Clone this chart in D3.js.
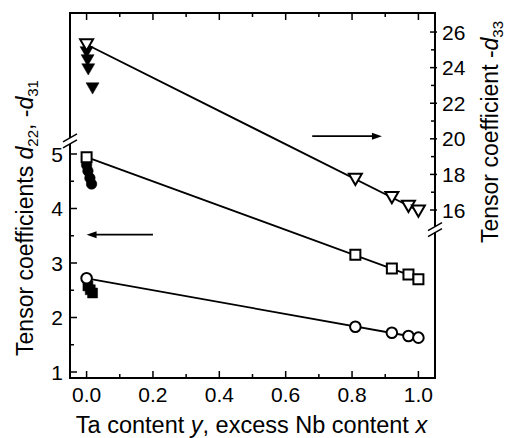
<!DOCTYPE html>
<html>
<head>
<meta charset="utf-8">
<script src="https://cdn.jsdelivr.net/npm/d3@7/dist/d3.min.js"></script>
<style>
  body { margin: 0; background: #fff; }
  svg { display: block; font-family: "Liberation Sans", Arial, sans-serif; }
</style>
</head>
<body>
<div id="chart"></div>
<script>
// tick labels
var xTicks = [0, 0.2, 0.4, 0.6, 0.8, 1.0];
var leftTicks = [1, 2, 3, 4, 5];
var rightTicks = [16, 18, 20, 22, 24, 26];

// open symbols (fitted by lines)
var xOpen = [0, 0.81, 0.92, 0.97, 1.0];
var triOpen = [25.3, 17.74, 16.71, 16.22, 15.96];   // -d33, right axis
var sqOpen = [4.94, 3.15, 2.90, 2.79, 2.70];        // left axis
var circOpen = [2.72, 1.83, 1.72, 1.66, 1.63];      // left axis

// filled symbols near x = 0
var xTriFilled = [0.0, 0.003, 0.005, 0.018];
var triFilled = [24.88, 24.43, 23.92, 22.85];
var xCircFilled = [0.0, 0.004, 0.01, 0.015];
var circFilled = [4.80, 4.69, 4.56, 4.45];
var xSqFilled = [0.004, 0.011, 0.018];
var sqFilled = [2.58, 2.51, 2.45];

var margin = {top: 13, right: 81, bottom: 60, left: 70},
    width = 516 - margin.left - margin.right,
    height = 438 - margin.top - margin.bottom;

var svg = d3.select("#chart").append("svg")
    .attr("width", 516)
    .attr("height", 438);

var g = svg.append("g")
    .attr("transform", "translate(" + margin.left + "," + margin.top + ")");

var x = d3.scaleLinear().domain([-0.05, 1.05]).range([0, width]);
var yL = d3.scaleLinear().domain([0.89, 7.587]).range([height, 0]);
var yR = d3.scaleLinear().domain([6.56, 27.07]).range([height, 0]);

var fontSize = 21;

// frame lines with breaks
var breakL = yL(5.24), breakR = yR(14.9), gap = 3;
var frame = g.append("g").attr("stroke", "#000").attr("stroke-width", 2).attr("fill", "none");
frame.append("line").attr("x1", -1).attr("x2", width + 1).attr("y1", 0).attr("y2", 0);
frame.append("line").attr("x1", -1).attr("x2", width + 1).attr("y1", height).attr("y2", height);
frame.append("line").attr("x1", 0).attr("x2", 0).attr("y1", 0).attr("y2", breakL - gap);
frame.append("line").attr("x1", 0).attr("x2", 0).attr("y1", breakL + gap).attr("y2", height);
frame.append("line").attr("x1", width).attr("x2", width).attr("y1", 0).attr("y2", breakR - gap);
frame.append("line").attr("x1", width).attr("x2", width).attr("y1", breakR + gap).attr("y2", height);

function breakMarks(cx, cy) {
    [-gap, gap].forEach(function (o) {
        frame.append("line")
            .attr("x1", cx - 7).attr("y1", cy + o + 4)
            .attr("x2", cx + 7).attr("y2", cy + o - 4)
            .attr("stroke-width", 1.5);
    });
}
breakMarks(0, breakL);
breakMarks(width, breakR);

// x ticks (bottom and top, inward)
var xMinor = d3.range(0, 1.01, 0.1);
var ticks = g.append("g").attr("stroke", "#000").attr("stroke-width", 1.5);
xMinor.forEach(function (v, i) {
    var len = i % 2 === 0 ? 7 : 4;
    ticks.append("line").attr("x1", x(v)).attr("x2", x(v)).attr("y1", height).attr("y2", height - len);
    ticks.append("line").attr("x1", x(v)).attr("x2", x(v)).attr("y1", 0).attr("y2", len);
});
g.append("g").selectAll("text").data(xTicks).enter().append("text")
    .attr("x", function (d) { return x(d); })
    .attr("y", height + 24)
    .attr("text-anchor", "middle")
    .attr("font-size", fontSize)
    .text(function (d) { return d3.format(".1f")(d); });

// left ticks
d3.range(1, 5.01, 0.5).forEach(function (v) {
    var len = Number.isInteger(v) ? 7 : 4;
    ticks.append("line").attr("x1", 0).attr("x2", len).attr("y1", yL(v)).attr("y2", yL(v));
});
g.append("g").selectAll("text").data(leftTicks).enter().append("text")
    .attr("x", -7)
    .attr("y", function (d) { return yL(d); })
    .attr("dy", "0.36em")
    .attr("text-anchor", "end")
    .attr("font-size", fontSize)
    .text(function (d) { return d; });

// right ticks
d3.range(16, 26.01, 1).forEach(function (v) {
    var major = v % 2 === 0;
    ticks.append("line").attr("x1", width - (major ? 5 : 4)).attr("x2", width + (major ? 2 : 0))
        .attr("y1", yR(v)).attr("y2", yR(v));
});
g.append("g").selectAll("text").data(rightTicks).enter().append("text")
    .attr("x", width + 7)
    .attr("y", function (d) { return yR(d); })
    .attr("dy", "0.36em")
    .attr("font-size", fontSize)
    .text(function (d) { return d; });

// fit lines (least squares on the open symbols)
function fit(xs, ys) {
    var mx = d3.mean(xs), my = d3.mean(ys);
    var sxy = d3.sum(xs, function (v, i) { return (v - mx) * (ys[i] - my); });
    var sxx = d3.sum(xs, function (v) { return (v - mx) * (v - mx); });
    var b = sxy / sxx;
    return function (v) { return my + b * (v - mx); };
}
var lines = g.append("g").attr("stroke", "#000").attr("stroke-width", 1.8);
[[triOpen, yR], [sqOpen, yL], [circOpen, yL]].forEach(function (s) {
    var f = fit(xOpen, s[0]);
    lines.append("line")
        .attr("x1", x(0)).attr("y1", s[1](f(0)))
        .attr("x2", x(1)).attr("y2", s[1](f(1)));
});

// symbols
var tri = "M-6.5,-5.3L6.5,-5.3L0,6Z";
var sq = "M-5,-5H5V5H-5Z";
var circ = d3.symbol().type(d3.symbolCircle).size(Math.PI * 5.3 * 5.3)();

function points(xs, ys, scale, path, filled) {
    g.append("g").selectAll("path").data(xs).enter().append("path")
        .attr("d", path)
        .attr("transform", function (d, i) { return "translate(" + x(d) + "," + scale(ys[i]) + ")"; })
        .attr("fill", filled ? "#000" : "#fff")
        .attr("stroke", "#000")
        .attr("stroke-width", filled ? 0.5 : 2);
}
points(xTriFilled, triFilled, yR, tri, true);
points(xCircFilled, circFilled, yL, circ, true);
points(xSqFilled, sqFilled, yL, sq, true);
points(xOpen, triOpen, yR, tri, false);
points(xOpen, sqOpen, yL, sq, false);
points(xOpen, circOpen, yL, circ, false);

// arrows
function arrow(x1, x2, yv) {
    var dir = x2 > x1 ? 1 : -1;
    g.append("line").attr("x1", x1).attr("x2", x2 - dir * 6).attr("y1", yv).attr("y2", yv)
        .attr("stroke", "#000").attr("stroke-width", 1.8);
    g.append("path")
        .attr("d", "M" + x2 + "," + yv + "L" + (x2 - dir * 10) + "," + (yv - 3.5) + "L" + (x2 - dir * 10) + "," + (yv + 3.5) + "Z")
        .attr("fill", "#000");
}
arrow(x(0.2), x(0.0), yL(3.52));
arrow(x(0.68), x(0.89), yR(20.15));

// axis titles
var xt = g.append("text")
    .attr("x", width / 2 - 1)
    .attr("y", height + 55)
    .attr("text-anchor", "middle")
    .attr("font-size", 23.5);
xt.append("tspan").text("Ta content ");
xt.append("tspan").attr("font-style", "italic").text("y");
xt.append("tspan").text(", excess Nb content ");
xt.append("tspan").attr("font-style", "italic").text("x");

var lt = svg.append("text")
    .attr("transform", "translate(33,218) rotate(-90)")
    .attr("text-anchor", "middle")
    .attr("font-size", 23);
lt.append("tspan").text("Tensor coefficients ");
lt.append("tspan").attr("font-style", "italic").text("d");
lt.append("tspan").attr("font-size", 15).attr("dy", 5).text("22");
lt.append("tspan").attr("dy", -5).text(", -");
lt.append("tspan").attr("font-style", "italic").text("d");
lt.append("tspan").attr("font-size", 15).attr("dy", 5).text("31");

var rt = svg.append("text")
    .attr("transform", "translate(498,132) rotate(-90)")
    .attr("text-anchor", "middle")
    .attr("font-size", 23);
rt.append("tspan").text("Tensor coefficient -");
rt.append("tspan").attr("font-style", "italic").text("d");
rt.append("tspan").attr("font-size", 15).attr("dy", 5).text("33");
</script>
</body>
</html>
